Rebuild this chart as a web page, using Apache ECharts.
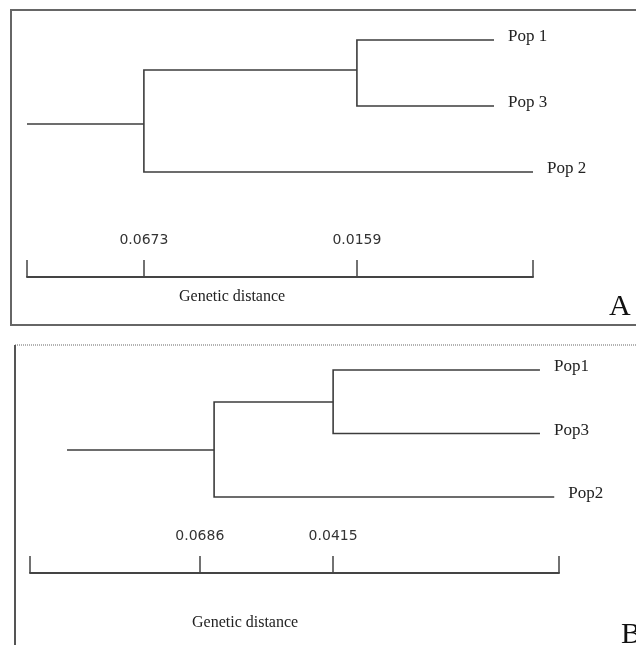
<!DOCTYPE html>
<html>
<head>
<meta charset="utf-8">
<script src="https://cdn.jsdelivr.net/npm/echarts@6/dist/echarts.min.js"></script>
<style>
  html, body { margin: 0; padding: 0; background: #fff; }
  #chart { width: 636px; height: 645px; }
</style>
</head>
<body>
<div id="chart"></div>
<script>
// ---- panel A: UPGMA tree (x = distance along scale bar, 0..1; row = leaf order) ----
var leavesA = ['Pop 1', 'Pop 3', 'Pop 2'];
var leafXA = [0.923, 0.923, 1.0];
var leafRowA = [0, 1, 2];
var leafParentA = [2, 2, 1];
var nodeXA = [0, 0.231, 0.652];        // root stub, node 1, node 2
var nodeRowA = [1.273, 1.273, 0.455];
var nodeParentA = [null, 0, 1];
var scaleTicksA = [0, 0.231, 0.652, 1];
var scaleLabelsA = ['', '0.0673', '0.0159', ''];

// ---- panel B ----
var leavesB = ['Pop1', 'Pop3', 'Pop2'];
var leafXB = [0.964, 0.964, 0.991];
var leafRowB = [0, 1, 2];
var leafParentB = [2, 2, 1];
var nodeXB = [0.070, 0.348, 0.573];
var nodeRowB = [1.26, 1.26, 0.504];
var nodeParentB = [null, 0, 1];
var scaleTicksB = [0, 0.321, 0.573, 1];
var scaleLabelsB = ['', '0.0686', '0.0415', ''];

var axisTitle = 'Genetic distance';

var lineColor = '#3c3c3c';
var serif = '"Liberation Serif", "DejaVu Serif", serif';

// edges: [parentX, parentY, childX, childY], names kept aside
function buildEdges(nodeX, nodeRow, nodeParent, leafX, leafRow, leafParent, leafNames) {
	var edges = [], names = [];
	for (var i = 0; i < nodeX.length; i++) {
		if (nodeParent[i] === null) continue;
		var p = nodeParent[i];
		edges.push([nodeX[p], nodeRow[p], nodeX[i], nodeRow[i]]);
		names.push('');
	}
	for (var j = 0; j < leafX.length; j++) {
		var q = leafParent[j];
		edges.push([nodeX[q], nodeRow[q], leafX[j], leafRow[j]]);
		names.push(leafNames[j]);
	}
	return {edges: edges, names: names};
}

var treeA = buildEdges(nodeXA, nodeRowA, nodeParentA, leafXA, leafRowA, leafParentA, leavesA);
var treeB = buildEdges(nodeXB, nodeRowB, nodeParentB, leafXB, leafRowB, leafParentB, leavesB);

function elbow(names) {
	return function(params, api) {
		var p = api.coord([api.value(0), api.value(1)]);
		var c = api.coord([api.value(2), api.value(3)]);
		var children = [{
			type: 'polyline',
			shape: {points: [[p[0], p[1]], [p[0], c[1]], [c[0], c[1]]]},
			style: {stroke: lineColor, lineWidth: 1.6, fill: null}
		}];
		var name = names[params.dataIndex];
		if (name) {
			children.push({
				type: 'text',
				x: c[0] + 14,
				y: c[1] - 3,
				style: {text: name, font: '17px ' + serif, fill: '#222', align: 'left', verticalAlign: 'middle'}
			});
		}
		return {type: 'group', children: children};
	};
}

function scaleAxis(gridIndex, ticks, labels) {
	return {
		type: 'value', gridIndex: gridIndex, min: 0, max: 1, position: 'bottom',
		splitLine: {show: false},
		axisLine: {show: true, onZero: false, lineStyle: {color: '#444', width: 2}},
		axisTick: {show: true, inside: true, length: 17, customValues: ticks, lineStyle: {color: '#444', width: 1.5}},
		axisLabel: {
			show: true, inside: true, margin: 30, customValues: ticks,
			color: '#333', fontFamily: '"DejaVu Sans", sans-serif', fontSize: 14,
			formatter: function(v) {
				var k = ticks.indexOf(v);
				return k >= 0 ? labels[k] : '';
			}
		}
	};
}

var myChart = echarts.init(document.getElementById('chart'), null, {renderer: 'canvas'});

var option = {
	backgroundColor: '#fff',
	animation: false,
	grid: [
		{left: 27, top: 20, width: 506, height: 257},
		{left: 30, top: 350, width: 529, height: 223}
	],
	xAxis: [scaleAxis(0, scaleTicksA, scaleLabelsA), scaleAxis(1, scaleTicksB, scaleLabelsB)],
	yAxis: [
		{type: 'value', gridIndex: 0, inverse: true, min: -0.303, max: 3.591, show: false},
		{type: 'value', gridIndex: 1, inverse: true, min: -0.315, max: 3.197, show: false}
	],
	series: [
		{type: 'custom', xAxisIndex: 0, yAxisIndex: 0, clip: false, renderItem: elbow(treeA.names), data: treeA.edges},
		{type: 'custom', xAxisIndex: 1, yAxisIndex: 1, clip: false, renderItem: elbow(treeB.names), data: treeB.edges}
	],
	graphic: [
		// panel frames
		{type: 'rect', shape: {x: 11, y: 10, width: 700, height: 315}, style: {fill: null, stroke: '#666', lineWidth: 2}, silent: true},
		{type: 'line', shape: {x1: 15, y1: 345, x2: 636, y2: 345}, style: {stroke: '#999', lineWidth: 1.5, lineDash: [1, 1]}, silent: true},
		{type: 'line', shape: {x1: 15, y1: 345, x2: 15, y2: 645}, style: {stroke: '#555', lineWidth: 2}, silent: true},
		// axis captions
		{type: 'text', x: 179, y: 297, style: {text: axisTitle, font: '16px ' + serif, fill: '#222', verticalAlign: 'middle'}},
		{type: 'text', x: 192, y: 623, style: {text: axisTitle, font: '16px ' + serif, fill: '#222', verticalAlign: 'middle'}},
		// panel letters
		{type: 'text', x: 609, y: 322, style: {text: 'A', font: '30px ' + serif, fill: '#111', verticalAlign: 'bottom'}},
		{type: 'text', x: 621, y: 650, style: {text: 'B', font: '30px ' + serif, fill: '#111', verticalAlign: 'bottom'}}
	]
};
myChart.setOption(option);
</script>
</body>
</html>
